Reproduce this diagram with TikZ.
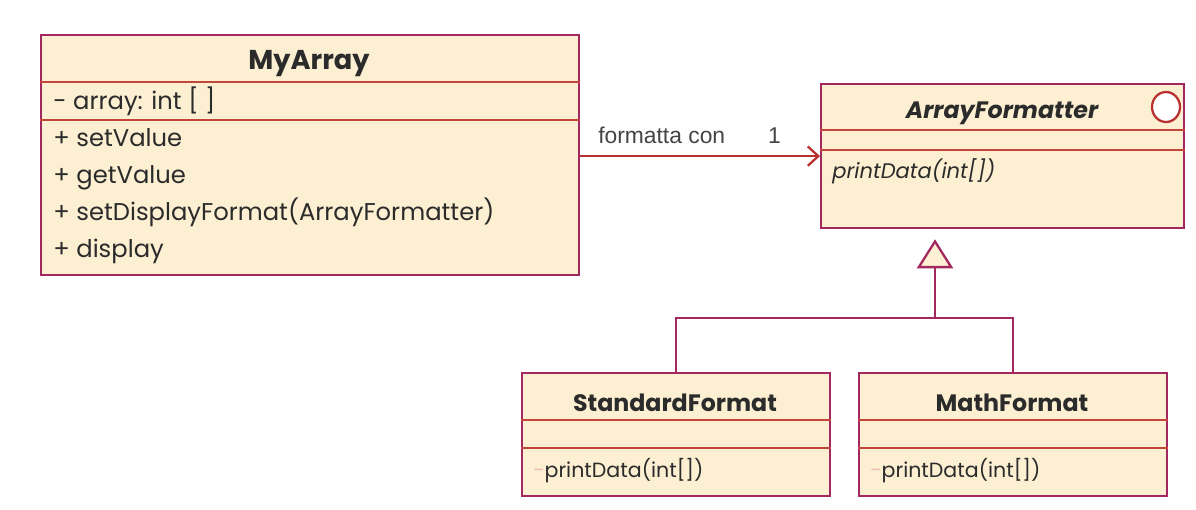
\documentclass[tikz,border=0pt]{standalone}
\usepackage{fontspec}
\setmainfont{Poppins}
\newfontfamily\arialfont{Liberation Sans}
\definecolor{umlborder}{HTML}{A3285F}
\definecolor{umlfill}{HTML}{FCEFD2}
\definecolor{sepred}{HTML}{C4463A}
\definecolor{assocred}{HTML}{B8312F}
\definecolor{darktext}{HTML}{2B2B2B}
\definecolor{lbltext}{HTML}{444444}
\usetikzlibrary{arrows.meta, positioning, calc, shapes.geometric}
\tikzset{
  cls/.style={
    draw=umlborder, fill=umlfill, line width=1.3pt,
    anchor=north west, inner sep=0pt
  },
  sep/.style={draw=sepred, line width=0.8pt},
  ttl/.style={font=\fontsize{13.5}{16}\selectfont\bfseries, text=darktext},
  mbr/.style={font=\fontsize{13.8}{16}\selectfont, text=darktext, anchor=base west, inner sep=0pt},
  assoc/.style={-{Straight Barb[length=6pt,width=11pt]}, line width=1.3pt, color=assocred},
  inh/.style={line width=1.3pt, color=umlborder},
  gen/.style={-{Triangle[open, fill=umlfill, length=0.58cm, width=0.72cm]}, line width=1.3pt,
    color=umlborder, shorten >=0.2cm},
  lbl/.style={font=\arialfont\fontsize{13}{15}\selectfont, text=lbltext},
}

\begin{document}
\begin{tikzpicture}[x=0.02cm, y=-0.02cm]
    \useasboundingbox (0,0) rectangle (1196,510);

    % MyArray
    \node[cls, minimum width=10.76cm, minimum height=4.8cm] (myarray) at (40,34) {};
    \node[ttl, font=\fontsize{15.5}{18}\selectfont\bfseries] (myarrayT) at (309,64) {MyArray};
    \draw[sep] (myarray.west |- 0,82) -- (myarray.east |- 0,82);
    \draw[sep] (myarray.west |- 0,120) -- (myarray.east |- 0,120);
    \node[mbr] (attr) at (53,110) {- array: int [ ]};
    \node[mbr] (m1) at (53,146) {+ setValue};
    \node[mbr] (m2) at (53,183) {+ getValue};
    \node[mbr] (m3) at (53,220) {+ setDisplayFormat(ArrayFormatter)};
    \node[mbr] (m4) at (53,257) {+ display};

    % ArrayFormatter (interfaccia)
    \node[cls, minimum width=7.26cm, minimum height=2.88cm] (fmt) at (820,83) {};
    \node[ttl, font=\fontsize{13.5}{16}\selectfont\bfseries\itshape] (fmtT) at (1002,113) {ArrayFormatter};
    \node[ellipse, draw=assocred, fill=white, line width=1.3pt, minimum width=0.56cm,
      minimum height=0.6cm, inner sep=0pt] (ifc) at (1166,107) {};
    \draw[sep] (fmt.west |- 0,130) -- (fmt.east |- 0,130);
    \draw[sep] (fmt.west |- 0,150) -- (fmt.east |- 0,150);
    \node[mbr, font=\fontsize{12}{14}\selectfont\itshape] (fmtM) at (832,178) {printData(int[])};

    % sottoclassi
    \node[cls, minimum width=6.16cm, minimum height=2.46cm] (stdfmt) at (521,372) {};
    \node[ttl] (stdfmtT) at (675,403) {StandardFormat};
    \draw[sep] (stdfmt.west |- 0,420) -- (stdfmt.east |- 0,420);
    \draw[sep] (stdfmt.west |- 0,448) -- (stdfmt.east |- 0,448);
    \node[mbr, font=\fontsize{11.7}{14}\selectfont] (stdfmtM) at (533,477) {{\color{sepred!35}-}printData(int[])};

    \node[cls, minimum width=6.16cm, minimum height=2.46cm] (mathfmt) at (858,372) {};
    \node[ttl] (mathfmtT) at (1012,403) {MathFormat};
    \draw[sep] (mathfmt.west |- 0,420) -- (mathfmt.east |- 0,420);
    \draw[sep] (mathfmt.west |- 0,448) -- (mathfmt.east |- 0,448);
    \node[mbr, font=\fontsize{11.7}{14}\selectfont] (mathfmtM) at (870,477) {{\color{sepred!35}-}printData(int[])};

    % connettori
    \draw[assoc] (myarray.east |- fmt.west) -- (fmt.west)
      node[lbl, pos=0.34, above=3pt] {formatta con}
      node[lbl, pos=0.81, above=3pt] {1};
    \coordinate (jn) at (935,318);
    \draw[inh] (stdfmt.north) |- (jn) -| (mathfmt.north);
    \draw[gen] (jn) -- (jn |- fmt.south);
\end{tikzpicture}
\end{document}
